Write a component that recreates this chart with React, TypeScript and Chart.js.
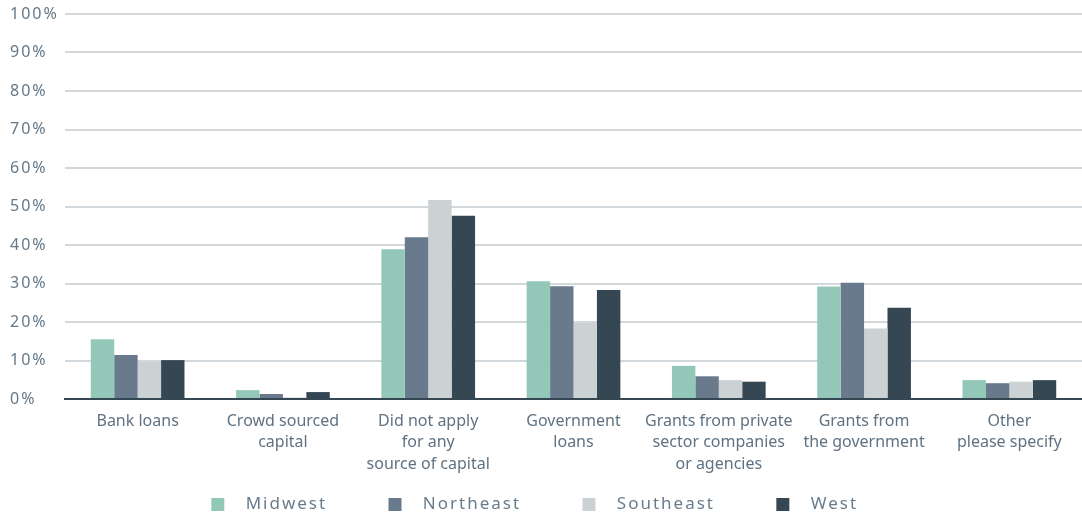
import React, { useEffect, useRef } from "react";
import { Chart, registerables } from "chart.js";

Chart.register(...registerables);

const categories: (string | string[])[] = [
  "Bank loans",
  ["Crowd sourced", "capital"],
  ["Did not apply", "for any", "source of capital"],
  ["Government", "loans"],
  ["Grants from private", "sector companies", "or agencies"],
  ["Grants from", "the government"],
  ["Other", "please specify"],
];

const midwest = [15.5, 2.3, 38.9, 30.6, 8.6, 29.2, 4.9];
const northeast = [11.4, 1.3, 42.0, 29.3, 5.9, 30.2, 4.1];
const southeast = [9.7, 0.4, 51.7, 19.8, 4.9, 18.3, 4.5];
const west = [10.1, 1.8, 47.6, 28.3, 4.5, 23.7, 4.9];

const seriesNames = ["Midwest", "Northeast", "Southeast", "West"];
const seriesColors = ["#93c8b9", "#687a8b", "#ccd1d4", "#344753"];

const FONT = "'Noto Sans', sans-serif";

export default function App() {
  const ref = useRef<HTMLCanvasElement | null>(null);

  useEffect(() => {
    document.body.style.margin = "0";
    document.body.style.overflow = "hidden";
    const canvas = ref.current;
    if (!canvas) return;

    const withoutSpacing = (chart: any, fn: () => any) => {
      const ctx = chart.ctx;
      const prev = ctx.letterSpacing;
      ctx.letterSpacing = "0px";
      try {
        return fn();
      } finally {
        ctx.letterSpacing = prev;
      }
    };

    const spacingPlugin = {
      id: "spacing",
      beforeLayout(chart: any) {
        chart.ctx.letterSpacing = "2px";
        const x = chart.scales.x;
        if (x && !x.__patched) {
          const origSizes = x._getLabelSizes.bind(x);
          x._getLabelSizes = () => withoutSpacing(chart, () => origSizes());
          const origDraw = x.drawLabels.bind(x);
          x.drawLabels = (area: any) => withoutSpacing(chart, () => origDraw(area));
          x.__patched = true;
        }
      },
      beforeDraw(chart: any) {
        chart.ctx.letterSpacing = "2px";
      },
    };

    const data = [midwest, northeast, southeast, west];
    const trailing = ["        ", "        ", "        ", "    "];

    const chart = new Chart(canvas, {
      type: "bar",
      data: {
        labels: categories,
        datasets: seriesNames.map((name, i) => ({
          label: name,
          data: data[i],
          backgroundColor: seriesColors[i],
          borderWidth: 0,
          barPercentage: 1,
          categoryPercentage: 0.645,
        })),
      },
      options: {
        animation: false,
        responsive: false,
        maintainAspectRatio: false,
        layout: { padding: { left: 10, right: -3, top: 14, bottom: 0 } },
        plugins: {
          tooltip: { enabled: false },
          legend: {
            position: "bottom",
            labels: {
              boxWidth: 13,
              boxHeight: 13,
              padding: 10,
              color: "#687c8c",
              font: { family: FONT, size: 17 },
              generateLabels(chart: any) {
                return chart.data.datasets.map((ds: any, i: number) => ({
                  text: "  " + ds.label + trailing[i],
                  fillStyle: ds.backgroundColor,
                  strokeStyle: ds.backgroundColor,
                  lineWidth: 0,
                  hidden: false,
                  datasetIndex: i,
                  fontColor: "#687c8c",
                }));
              },
            },
          },
        },
        scales: {
          x: {
            grid: { display: false, drawTicks: false },
            border: { display: true, color: "#344753", width: 2 },
            ticks: {
              color: "#5f7282",
              font: { family: FONT, size: 16, lineHeight: 1.33 },
              padding: 12,
              maxRotation: 0,
              autoSkip: false,
            },
            afterFit(scale: any) {
              scale.height = 87;
            },
          },
          y: {
            min: 0,
            max: 100,
            grid: { color: "#d3d8dc", lineWidth: 2, drawTicks: false },
            border: { display: false },
            ticks: {
              stepSize: 10,
              color: "#647888",
              crossAlign: "far",
              font: { family: FONT, size: 16 },
              callback: (v: any) => v + "%",
            },
            afterFit(scale: any) {
              scale.width = 55;
            },
          },
        },
      },
      plugins: [spacingPlugin],
    } as any);

    return () => chart.destroy();
  }, []);

  return (
    <div style={{ width: 1082, height: 523 }}>
      <canvas ref={ref} width={1082} height={523} style={{ display: "block" }} />
    </div>
  );
}
